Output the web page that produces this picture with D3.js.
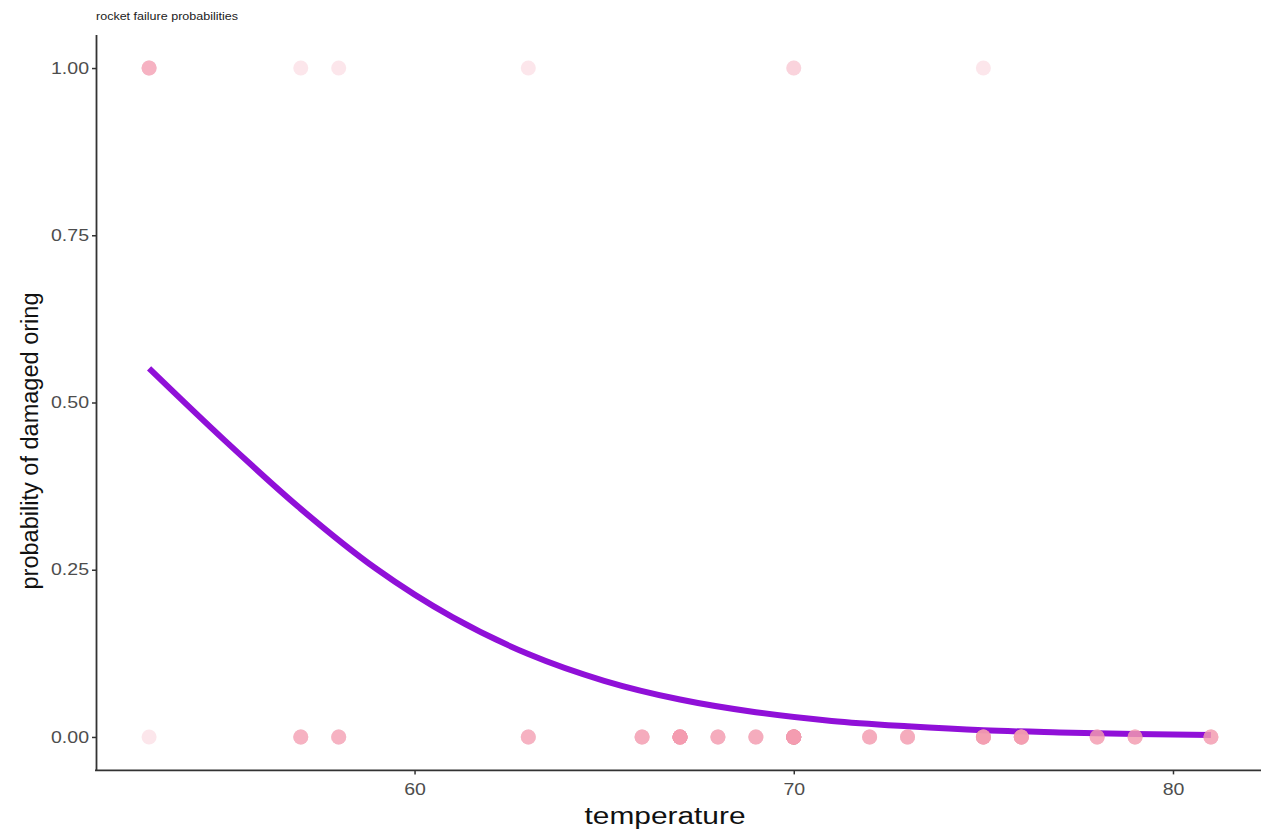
<!DOCTYPE html>
<html>
<head>
<meta charset="utf-8">
<script src="https://cdn.jsdelivr.net/npm/d3@7"></script>
<style>
  body { margin: 0; background: #fff; }
  svg text { font-family: "Liberation Sans", Arial, sans-serif; }
</style>
</head>
<body>
<svg id="chart" width="1261" height="830"></svg>
<script>
// flights: launch temperature and number of damaged o-rings (out of 6)
const flightTemps = [53, 57, 58, 63, 66, 67, 67, 67, 68, 69, 70, 70, 70, 70, 72, 73, 75, 75, 76, 76, 78, 79, 81];
const flightDamage = [5, 1, 1, 1, 0, 0, 0, 0, 0, 0, 1, 0, 1, 0, 0, 0, 0, 1, 0, 0, 0, 0, 0];
const ringsPerFlight = 6;

// fitted curve
const curveTemps = [53, 55, 57, 59, 61, 63, 65, 67, 69, 71, 73, 75, 77, 79, 81];
const curveProb = [0.551, 0.443, 0.341, 0.251, 0.179, 0.124, 0.084, 0.056, 0.037, 0.024, 0.016, 0.010, 0.0068, 0.0044, 0.0029];

const xTicks = [60, 70, 80];
const yTicks = [0, 0.25, 0.5, 0.75, 1];

const svg = d3.select("#chart");
const plotLeft = 96, plotRight = 1264, plotTop = 34.6, plotBottom = 770.4;

const x = d3.scaleLinear().domain([51.6, 82.4]).range([plotLeft, plotRight]);
const y = d3.scaleLinear().domain([-0.05, 1.05]).range([plotBottom, plotTop]);

// one point per o-ring
let points = [];
flightTemps.forEach((t, i) => {
    for (let k = 0; k < ringsPerFlight; k++) {
        points.push({ temp: t, damaged: k < flightDamage[i] ? 1 : 0 });
    }
});

// curve
const line = d3.line()
    .x((d, i) => x(curveTemps[i]))
    .y(d => y(d))
    .curve(d3.curveMonotoneX);

svg.append("path")
    .datum(curveProb)
    .attr("d", line)
    .attr("fill", "none")
    .attr("stroke", "#9010d8")
    .attr("stroke-width", 6);

svg.append("g")
    .selectAll("circle")
    .data(points)
    .enter().append("circle")
    .attr("cx", d => x(d.temp))
    .attr("cy", d => y(d.damaged))
    .attr("r", 7.5)
    .attr("fill", "#f39bb0")
    .attr("fill-opacity", 0.25);

// axes
const xAxis = svg.append("g")
    .attr("transform", "translate(0," + plotBottom + ")")
    .call(d3.axisBottom(x).tickValues(xTicks).tickFormat(d3.format("d")).tickSizeInner(4).tickSizeOuter(0));
const yAxis = svg.append("g")
    .attr("transform", "translate(" + plotLeft + ",0)")
    .call(d3.axisLeft(y).tickValues(yTicks).tickFormat(d3.format(".2f")).tickSizeInner(4).tickSizeOuter(0));

[xAxis, yAxis].forEach(a => {
    a.select(".domain").attr("stroke", "#333").attr("stroke-width", 1.8);
    a.selectAll(".tick line").attr("stroke", "#333").attr("stroke-width", 1.5);
    a.selectAll(".tick text").attr("fill", "#4d4d4d").style("font-size", "16px")
        .each(function () {
            // the reference glyphs are a bit wider than ours
            const w = this.getComputedTextLength();
            d3.select(this).attr("textLength", w * 1.22).attr("lengthAdjust", "spacingAndGlyphs");
        });
});
xAxis.select(".domain").attr("d", "M" + (plotLeft - 1) + ",0H1261");
xAxis.selectAll(".tick text").attr("dy", "1.1em");
yAxis.selectAll(".tick text").attr("x", -7);

svg.append("text")
    .attr("x", 665)
    .attr("y", 824)
    .attr("text-anchor", "middle")
    .style("font-size", "23px")
    .attr("fill", "#111")
    .attr("textLength", 161)
    .attr("lengthAdjust", "spacingAndGlyphs")
    .text("temperature");

svg.append("text")
    .attr("transform", "translate(38,441) rotate(-90)")
    .attr("text-anchor", "middle")
    .style("font-size", "23px")
    .attr("fill", "#111")
    .attr("textLength", 297)
    .attr("lengthAdjust", "spacingAndGlyphs")
    .text("probability of damaged oring");

svg.append("text")
    .attr("x", plotLeft)
    .attr("y", 20)
    .style("font-size", "10px")
    .attr("fill", "#222")
    .attr("textLength", 142)
    .attr("lengthAdjust", "spacingAndGlyphs")
    .text("rocket failure probabilities");
</script>
</body>
</html>
